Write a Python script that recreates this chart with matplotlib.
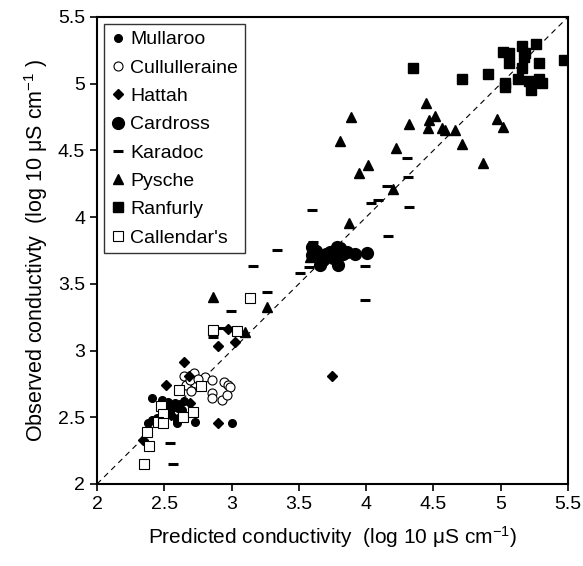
import matplotlib
matplotlib.use('Agg')
import matplotlib.pyplot as plt

plt.rcParams['font.family'] = ['Liberation Sans', 'DejaVu Sans']
plt.rcParams['mathtext.fontset'] = 'custom'
plt.rcParams['mathtext.rm'] = 'Liberation Sans'
plt.rcParams['mathtext.default'] = 'regular'

# Predicted (x) and observed (y) conductivity, log10 uS/cm
mullaroo_x = [2.406, 2.381, 2.406, 2.443, 2.48, 2.53, 2.58, 2.505, 2.555, 2.604, 2.542, 2.592, 2.592, 2.629, 2.728, 3.0, 2.62, 2.65, 2.56, 2.62]
mullaroo_y = [2.642, 2.455, 2.48, 2.492, 2.63, 2.617, 2.605, 2.579, 2.567, 2.567, 2.53, 2.48, 2.455, 2.555, 2.462, 2.455, 2.6, 2.62, 2.59, 2.5]

cullulleraine_x = [2.649, 2.723, 2.802, 2.852, 2.659, 2.728, 2.946, 2.975, 2.988, 2.852, 2.856, 2.926, 2.963, 2.773, 2.691, 2.75, 2.70]
cullulleraine_y = [2.81, 2.834, 2.80, 2.78, 2.742, 2.755, 2.767, 2.742, 2.729, 2.684, 2.642, 2.63, 2.667, 2.735, 2.78, 2.79, 2.70]

hattah_x = [2.975, 2.901, 3.025, 2.646, 2.51, 2.901, 2.691, 2.686, 2.339, 3.748, 2.60, 2.55]
hattah_y = [3.16, 3.037, 3.067, 2.917, 2.742, 2.455, 2.605, 2.807, 2.33, 2.812, 2.58, 2.52]

cardross_x = [3.595, 3.595, 3.681, 3.731, 3.781, 3.793, 3.855, 3.917, 4.008, 3.657, 3.805, 3.753, 3.627, 3.83, 3.70]
cardross_y = [3.779, 3.717, 3.679, 3.741, 3.779, 3.642, 3.741, 3.724, 3.734, 3.642, 3.769, 3.694, 3.747, 3.72, 3.72]

karadoc_x = [2.931, 2.862, 3.595, 3.34, 3.157, 3.261, 2.996, 3.508, 4.305, 4.313, 4.157, 4.09, 4.033, 4.318, 4.164, 3.607, 3.991, 3.577, 3.991, 2.542, 2.567]
karadoc_y = [3.172, 3.104, 4.054, 3.754, 3.637, 3.442, 3.30, 3.584, 4.441, 4.304, 4.234, 4.129, 4.104, 4.079, 3.859, 3.816, 3.637, 3.629, 3.379, 2.305, 2.15]

pysche_x = [3.10, 2.86, 3.261, 4.444, 3.887, 3.805, 4.318, 4.467, 4.511, 4.457, 4.221, 4.013, 3.946, 4.201, 3.874, 3.582, 4.561, 4.585, 4.66, 4.709, 4.87, 4.974, 5.019]
pysche_y = [3.142, 3.404, 3.329, 4.854, 4.753, 4.574, 4.696, 4.729, 4.759, 4.666, 4.516, 4.389, 4.334, 4.209, 3.954, 3.704, 4.666, 4.654, 4.654, 4.549, 4.409, 4.738, 4.678]

ranfurly_x = [4.345, 4.714, 4.907, 5.019, 5.063, 5.155, 5.259, 5.18, 5.175, 5.063, 5.284, 5.155, 5.47, 5.031, 5.031, 5.13, 5.212, 5.284, 5.31, 5.224]
ranfurly_y = [5.121, 5.036, 5.073, 5.236, 5.228, 5.285, 5.298, 5.228, 5.198, 5.158, 5.153, 5.121, 5.18, 5.004, 4.978, 5.036, 5.023, 5.036, 5.004, 4.954]

callendars_x = [2.864, 3.137, 3.038, 2.609, 2.773, 2.473, 2.493, 2.455, 2.493, 2.641, 2.71, 2.369, 2.389, 2.349]
callendars_y = [3.154, 3.392, 3.149, 2.705, 2.737, 2.585, 2.522, 2.467, 2.455, 2.505, 2.542, 2.392, 2.285, 2.15]

ticks = [2, 2.5, 3, 3.5, 4, 4.5, 5, 5.5]
tick_labels = ['2', '2.5', '3', '3.5', '4', '4.5', '5', '5.5']

fig = plt.figure(figsize=(5.83, 5.66), dpi=100)
ax = fig.add_axes([0.1664, 0.1449, 0.8079, 0.8251])

# 1:1 line
ax.plot([2, 5.5], [2, 5.5], color='black', lw=0.8, dashes=(5, 4), zorder=1)

ax.plot(mullaroo_x, mullaroo_y, 'o', color='black', ms=5.5, label='Mullaroo')
ax.plot(cullulleraine_x, cullulleraine_y, 'o', mfc='white', mec='black', mew=0.8, ms=6.5, label='Cullulleraine')
ax.plot(hattah_x, hattah_y, 'D', color='black', ms=5.5, label='Hattah')
ax.plot(cardross_x, cardross_y, 'o', color='black', ms=8.5, label='Cardross')
ax.plot(karadoc_x, karadoc_y, '_', color='black', ms=7, mew=2.2, label='Karadoc')
ax.plot(pysche_x, pysche_y, '^', color='black', ms=7.5, label='Pysche')
ax.plot(ranfurly_x, ranfurly_y, 's', color='black', ms=6.5, label='Ranfurly')
ax.plot(callendars_x, callendars_y, 's', mfc='white', mec='black', mew=0.8, ms=6.5, label="Callendar's")

ax.set_xlim(2, 5.5)
ax.set_ylim(2, 5.5)
ax.set_xticks(ticks)
ax.set_yticks(ticks)
ax.set_xticklabels(tick_labels)
ax.set_yticklabels(tick_labels)
ax.tick_params(direction='out', length=5, width=1.2, labelsize=14, top=False, right=False)
for s in ax.spines.values():
    s.set_linewidth(1.5)

ax.set_xlabel('Predicted conductivity  (log 10 μS cm$^{-1}$)', fontsize=15, labelpad=8)
ax.set_ylabel('Observed conductivty  (log 10 μS cm$^{-1}$ )', fontsize=15.5, labelpad=6)

leg = ax.legend(loc='upper left', bbox_to_anchor=(0.015, 0.985), fontsize=14, frameon=True,
                fancybox=False, edgecolor='black', handlelength=0.7, handletextpad=0.3,
                labelspacing=0.55, borderpad=0.35, borderaxespad=0)
leg.get_frame().set_linewidth(1.0)

plt.savefig('out.png', dpi=100)
